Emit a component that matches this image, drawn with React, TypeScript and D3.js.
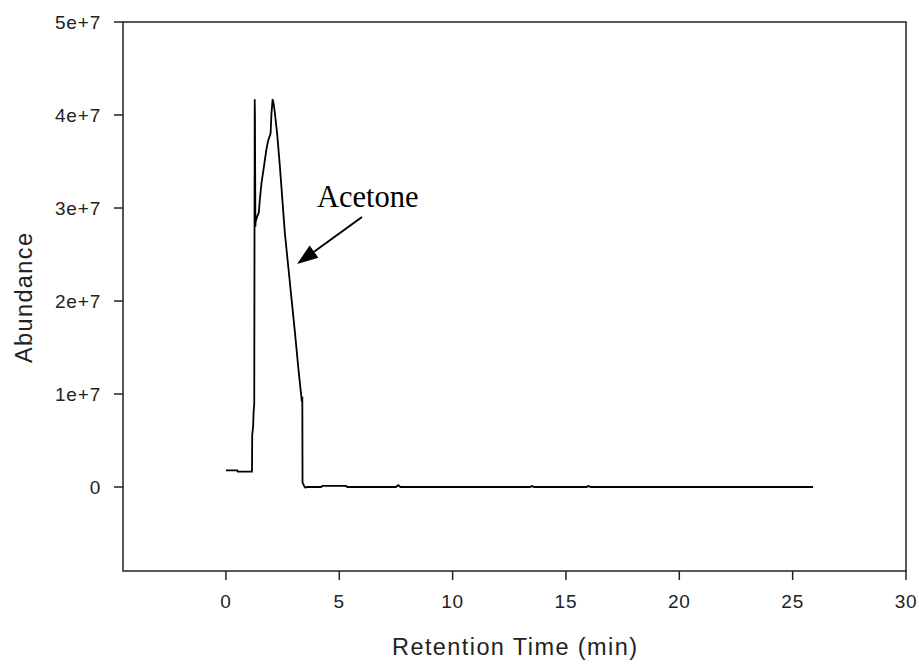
import React from "react";
import * as d3 from "d3";

// Retention time (min) and abundance
const times: number[] = [
  0, 0.5, 0.52, 1.15, 1.16, 1.2, 1.22, 1.25, 1.27, 1.28, 1.3, 1.31, 1.38, 1.45,
  1.5, 1.57, 1.65, 1.72, 1.8, 1.87, 1.97, 2.01, 2.06, 2.1, 2.16, 2.26, 2.38,
  2.49, 2.6, 2.75, 2.9, 3.05, 3.19, 3.34, 3.37, 3.38, 3.45, 3.5, 3.6, 4.2, 4.25,
  5.3, 5.35, 7.5, 7.6, 7.7, 13.4, 13.5, 13.6, 15.9, 16.0, 16.1, 25.9,
];
const abundance: number[] = [
  1.8e6, 1.8e6, 1.65e6, 1.65e6, 5.6e6, 6.5e6, 8.0e6, 9.0e6, 41.7e6, 40.0e6,
  28.0e6, 28.5e6, 29.1e6, 29.5e6, 31.0e6, 32.7e6, 34.0e6, 35.2e6, 36.5e6, 37.3e6,
  38.0e6, 40.2e6, 41.7e6, 41.3e6, 40.2e6, 38.0e6, 34.5e6, 30.9e6, 27.3e6,
  23.7e6, 20.1e6, 16.5e6, 12.9e6, 9.4e6, 9.5e6, 0.5e6, 0.1e6, -0.05e6, 0.0,
  0.0, 0.12e6, 0.12e6, 0.0, 0.0, 0.2e6, 0.0, 0.0, 0.1e6, 0.0, 0.0, 0.1e6, 0.0,
  0.0,
];

const xTicks: number[] = [0, 5, 10, 15, 20, 25, 30];
const yTicks: number[] = [0, 1e7, 2e7, 3e7, 4e7, 5e7];
const yTickLabels: string[] = ["0", "1e+7", "2e+7", "3e+7", "4e+7", "5e+7"];
const xTitle = "Retention Time (min)";
const yTitle = "Abundance";
const annotation = "Acetone";

export default function App() {
  const W = 919;
  const H = 664;
  const left = 123;
  const right = 906;
  const top = 22;
  const bottom = 571;

  const x = d3.scaleLinear().domain([-4.54, 30]).range([left, right]);
  const y = d3.scaleLinear().domain([-9.03e6, 5e7]).range([bottom, top]);

  const pts: [number, number][] = times.map((t, i) => [t, abundance[i]]);
  const line = d3
    .line<[number, number]>()
    .x((d) => x(d[0]))
    .y((d) => y(d[1]))
    .curve(d3.curveLinear);

  const axisColor = "#222";
  const sans = "'Liberation Sans', Arial, sans-serif";

  // arrow geometry
  const tail: [number, number] = [362, 217];
  const tip: [number, number] = [297, 264];
  const dx = tip[0] - tail[0];
  const dy = tip[1] - tail[1];
  const len = Math.sqrt(dx * dx + dy * dy);
  const ux = dx / len;
  const uy = dy / len;
  const headLen = 21;
  const headW = 7.5;
  const bx = tip[0] - ux * headLen;
  const by = tip[1] - uy * headLen;
  const head = `M${tip[0]},${tip[1]} L${bx - uy * headW},${by + ux * headW} L${bx + uy * headW},${by - ux * headW} Z`;

  return (
    <svg
      width={W}
      height={H}
      style={{ position: "absolute", left: 0, top: 0, background: "#fff" }}
    >
      <rect x={0} y={0} width={W} height={H} fill="#fff" />
      {/* frame */}
      <rect
        x={left}
        y={top}
        width={right - left}
        height={bottom - top}
        fill="none"
        stroke={axisColor}
        strokeWidth={1.5}
      />
      {/* y ticks */}
      {yTicks.map((v, i) => (
        <g key={"y" + v}>
          <line
            x1={left - 9}
            x2={left}
            y1={y(v)}
            y2={y(v)}
            stroke={axisColor}
            strokeWidth={1.5}
          />
          <text
            x={101}
            y={y(v) + 6.5}
            textAnchor="end"
            fontFamily={sans}
            fontSize={19}
            letterSpacing={0.8}
            fill={axisColor}
          >
            {yTickLabels[i]}
          </text>
        </g>
      ))}
      {/* x ticks */}
      {xTicks.map((v) => (
        <g key={"x" + v}>
          <line
            x1={x(v)}
            x2={x(v)}
            y1={bottom}
            y2={bottom + 9}
            stroke={axisColor}
            strokeWidth={1.5}
          />
          <text
            x={x(v)}
            y={608}
            textAnchor="middle"
            fontFamily={sans}
            fontSize={19}
            letterSpacing={0.8}
            fill={axisColor}
          >
            {String(v)}
          </text>
        </g>
      ))}
      {/* data */}
      <path
        d={line(pts) ?? ""}
        fill="none"
        stroke="#000"
        strokeWidth={1.8}
        strokeLinejoin="miter"
      />
      {/* axis titles */}
      <text
        x={514.5}
        y={655}
        textAnchor="middle"
        fontFamily={sans}
        fontSize={23.5}
        textLength={245}
        lengthAdjust="spacing"
        fill={axisColor}
      >
        {xTitle}
      </text>
      <text
        transform={`translate(31.5,298) rotate(-90)`}
        textAnchor="middle"
        fontFamily={sans}
        fontSize={23.5}
        textLength={130}
        lengthAdjust="spacing"
        fill={axisColor}
      >
        {yTitle}
      </text>
      {/* annotation */}
      <text
        x={317}
        y={207}
        fontFamily="'Liberation Serif', 'Times New Roman', serif"
        fontSize={30.5}
        fill="#000"
      >
        {annotation}
      </text>
      <line
        x1={tail[0]}
        y1={tail[1]}
        x2={bx}
        y2={by}
        stroke="#000"
        strokeWidth={2}
      />
      <path d={head} fill="#000" />
    </svg>
  );
}
